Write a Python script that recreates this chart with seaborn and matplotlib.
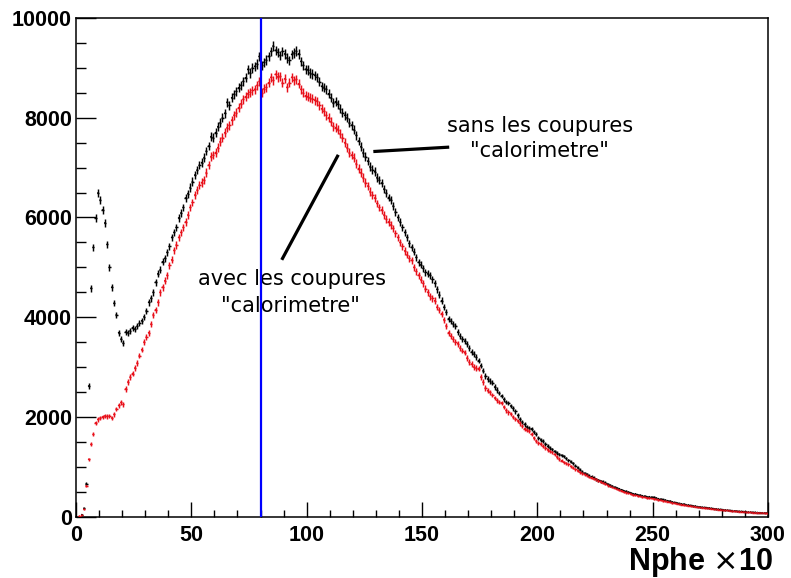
import numpy as np
import pandas as pd
import matplotlib
matplotlib.use("Agg")
import matplotlib.pyplot as plt
import seaborn as sns
from matplotlib.ticker import MultipleLocator

# Histogram of Nphe (x10), one bin per unit from 0 to 300
bin_edges_lo = list(range(0, 300))

# Without the calorimeter cuts
counts_sans = [
    0, 0, 40, 170, 660, 2620, 4580, 5400, 5990, 6490,
    6350, 6150, 5890, 5460, 5000, 4600, 4280, 4050, 3690, 3560,
    3480, 3700, 3690, 3730, 3790, 3760, 3820, 3880, 3930, 4010,
    4130, 4300, 4380, 4500, 4700, 4870, 4950, 5110, 5180, 5300,
    5420, 5600, 5700, 5800, 5990, 6090, 6200, 6390, 6480, 6600,
    6720, 6850, 6950, 7050, 7100, 7200, 7330, 7430, 7620, 7600,
    7700, 7820, 7900, 8000, 8090, 8310, 8250, 8400, 8470, 8530,
    8600, 8650, 8730, 8800, 8970, 8900, 9000, 9030, 9080, 9230,
    9050, 9110, 9160, 9230, 9330, 9440, 9350, 9310, 9250, 9330,
    9280, 9200, 9150, 9270, 9300, 9340, 9280, 9130, 9050, 8970,
    8960, 8900, 8880, 8850, 8810, 8720, 8630, 8600, 8570, 8480,
    8400, 8300, 8320, 8270, 8180, 8100, 8050, 8000, 7900, 7850,
    7760, 7650, 7530, 7420, 7300, 7220, 7130, 7020, 6960, 6920,
    6800, 6750, 6690, 6570, 6490, 6400, 6350, 6230, 6110, 6000,
    5910, 5800, 5700, 5600, 5480, 5400, 5310, 5200, 5100, 5050,
    4980, 4900, 4870, 4840, 4760, 4680, 4560, 4450, 4330, 4200,
    4100, 3970, 3920, 3870, 3830, 3700, 3620, 3570, 3520, 3470,
    3380, 3300, 3260, 3200, 3130, 3030, 2930, 2820, 2760, 2720,
    2690, 2600, 2540, 2480, 2420, 2350, 2300, 2280, 2220, 2170,
    2110, 2030, 1950, 1900, 1850, 1800, 1780, 1760, 1700, 1650,
    1580, 1540, 1510, 1460, 1410, 1380, 1350, 1310, 1280, 1250,
    1230, 1210, 1170, 1130, 1100, 1070, 1020, 980, 940, 900,
    870, 850, 820, 800, 780, 750, 730, 710, 700, 680,
    650, 630, 610, 590, 575, 560, 540, 520, 505, 490,
    475, 460, 455, 440, 430, 420, 410, 400, 400, 390,
    385, 375, 360, 350, 345, 330, 320, 310, 295, 285,
    275, 265, 258, 250, 240, 232, 225, 215, 210, 202,
    195, 190, 184, 180, 175, 168, 160, 155, 150, 146,
    140, 135, 130, 125, 121, 116, 112, 108, 104, 100,
    97, 94, 91, 88, 86, 83, 80, 78, 76, 74,
]

# With the calorimeter cuts
counts_avec = [
    0, 10, 30, 150, 620, 1150, 1450, 1650, 1880, 1950,
    1980, 2000, 2020, 2010, 2020, 1980, 2050, 2160, 2230, 2290,
    2250, 2560, 2700, 2800, 2870, 2980, 3080, 3230, 3350, 3500,
    3600, 3690, 3860, 4050, 4150, 4300, 4500, 4600, 4730, 4840,
    5040, 5150, 5340, 5450, 5600, 5700, 5800, 5910, 6050, 6200,
    6300, 6450, 6550, 6650, 6700, 6750, 6900, 7050, 7220, 7250,
    7300, 7400, 7520, 7600, 7700, 7800, 7850, 7950, 8050, 8100,
    8200, 8280, 8370, 8420, 8480, 8510, 8550, 8570, 8650, 8730,
    8500, 8580, 8610, 8700, 8810, 8750, 8870, 8820, 8830, 8700,
    8780, 8610, 8700, 8810, 8750, 8770, 8680, 8570, 8500, 8440,
    8420, 8400, 8380, 8350, 8330, 8250, 8180, 8130, 8050, 8000,
    7920, 7830, 7800, 7760, 7680, 7600, 7500, 7400, 7300, 7250,
    7200, 7080, 6980, 6900, 6800, 6700, 6630, 6520, 6450, 6390,
    6280, 6200, 6150, 6050, 5970, 5910, 5850, 5780, 5680, 5600,
    5500, 5420, 5330, 5250, 5180, 5140, 5000, 4920, 4840, 4750,
    4680, 4570, 4500, 4420, 4380, 4330, 4200, 4150, 4070, 3950,
    3830, 3690, 3620, 3560, 3500, 3470, 3380, 3330, 3290, 3180,
    3100, 3060, 3000, 2980, 2970, 2800, 2700, 2580, 2530, 2490,
    2440, 2380, 2330, 2300, 2280, 2200, 2130, 2090, 2060, 2000,
    1960, 1920, 1870, 1820, 1760, 1730, 1710, 1650, 1580, 1520,
    1480, 1450, 1410, 1380, 1340, 1310, 1290, 1250, 1200, 1160,
    1120, 1090, 1070, 1050, 1010, 980, 950, 920, 890, 870,
    850, 830, 800, 780, 760, 750, 720, 700, 680, 660,
    630, 610, 590, 570, 550, 535, 520, 500, 485, 470,
    455, 440, 430, 420, 410, 400, 390, 380, 375, 365,
    360, 350, 340, 330, 320, 312, 302, 290, 280, 270,
    262, 252, 243, 238, 228, 220, 214, 205, 200, 190,
    186, 180, 176, 171, 166, 160, 152, 148, 143, 138,
    133, 128, 124, 119, 114, 109, 106, 103, 99, 95,
    92, 89, 86, 83, 80, 78, 76, 74, 72, 70,
]

series_names = ["sans", "avec"]
series_colors = {"sans": "#000000", "avec": "#e8101a"}
cut_position = 80

x_ticks = [0, 50, 100, 150, 200, 250, 300]
y_ticks = [0, 2000, 4000, 6000, 8000, 10000]

centers = np.array(bin_edges_lo) + 0.5
frames = []
for name, counts in zip(series_names, [counts_sans, counts_avec]):
    frames.append(pd.DataFrame({"nphe": centers, "entries": counts, "serie": name}))
df = pd.concat(frames, ignore_index=True)
df = df[df["entries"] > 0]

sns.set_theme(style="white")

fig = plt.figure(figsize=(7.91, 5.78), dpi=100)
ax = fig.add_axes([0.0961, 0.1061, 0.8748, 0.8628])

# Histogram points drawn as crosses: bin width horizontally, sqrt(N) vertically
for name in series_names:
    sub = df[df["serie"] == name]
    ax.errorbar(sub["nphe"], sub["entries"], xerr=0.5, yerr=np.sqrt(sub["entries"]),
                fmt="none", ecolor=series_colors[name], elinewidth=1.05, capsize=0, zorder=3)
sns.scatterplot(data=df, x="nphe", y="entries", hue="serie", palette=series_colors,
                s=1.5, linewidth=0, legend=False, ax=ax, zorder=4)

ax.axvline(cut_position, color="#0000ff", lw=1.6, zorder=5)

ax.set_xlim(0, 300)
ax.set_ylim(0, 10000)
ax.set_xticks(x_ticks)
ax.set_yticks(y_ticks)
ax.xaxis.set_minor_locator(MultipleLocator(10))
ax.yaxis.set_minor_locator(MultipleLocator(500))
ax.set_xlabel("")
ax.set_ylabel("")

for s in ax.spines.values():
    s.set_color("black")
    s.set_linewidth(1.1)

ax.tick_params(axis="x", which="major", direction="in", length=10.5, width=1.0,
               color="black", pad=6, bottom=True, top=False)
ax.tick_params(axis="x", which="minor", direction="in", length=5, width=1.0,
               color="black", bottom=True, top=False)
ax.tick_params(axis="y", which="major", direction="in", length=14.5, width=1.0,
               color="black", pad=3, left=True, right=False)
ax.tick_params(axis="y", which="minor", direction="in", length=7, width=1.0,
               color="black", left=True, right=False)

for lab in ax.get_xticklabels() + ax.get_yticklabels():
    lab.set_fontfamily("Liberation Sans")
    lab.set_fontweight("bold")
    lab.set_fontsize(15.5)
    lab.set_color("black")

# Axis title in the lower right corner, with a thin multiplication sign
fig.text(0.977, 0.027, r"Nphe $\times$10", ha="right", va="center",
         fontfamily="Liberation Sans", fontweight="bold", fontsize=22, color="black")

# Annotations with pointer strokes
note_font = dict(fontfamily="DejaVu Sans", fontsize=15, color="black", ha="center", va="baseline")
ax.text(201.0, 7723, "sans les coupures", **note_font)
ax.text(201.0, 7222, "\"calorimetre\"", **note_font)
ax.text(93.5, 4648, "avec les coupures", **note_font)
ax.text(93.1, 4112, "\"calorimetre\"", **note_font)

ax.plot([128.9, 161.8], [7322, 7410], color="black", lw=2.3, solid_capstyle="butt", zorder=6)
ax.plot([113.7, 89.2], [7256, 5150], color="black", lw=2.3, solid_capstyle="butt", zorder=6)

fig.savefig("out.png", dpi=100, facecolor="white")
